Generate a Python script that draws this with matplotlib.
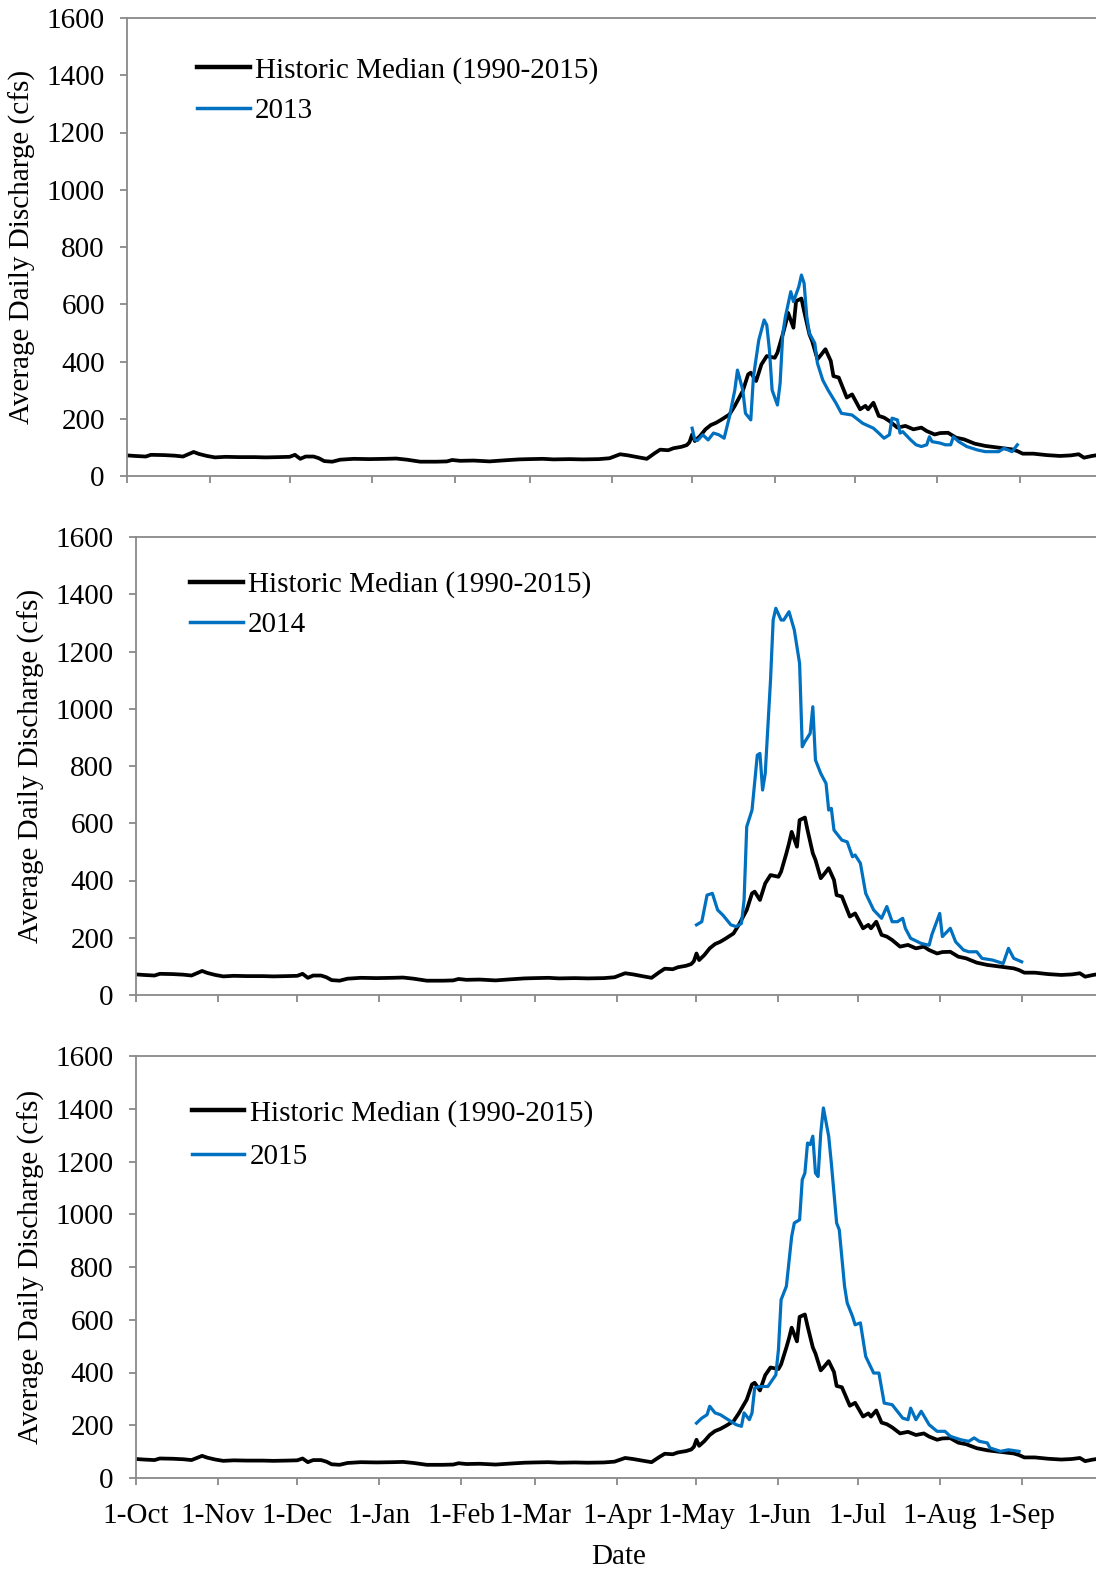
import matplotlib
matplotlib.use('Agg')
import matplotlib.pyplot as plt
from matplotlib.lines import Line2D

plt.rcParams['font.family'] = ['Liberation Serif', 'DejaVu Serif']

# ---- data (day index counted from 1-Oct) ----
month_labels = ['1-Oct', '1-Nov', '1-Dec', '1-Jan', '1-Feb', '1-Mar', '1-Apr',
                '1-May', '1-Jun', '1-Jul', '1-Aug', '1-Sep']
month_days = [0, 31, 61, 92, 123, 151, 182, 212, 243, 273, 304, 335]
y_ticks = [0, 200, 400, 600, 800, 1000, 1200, 1400, 1600]

median_days = [0, 3, 7, 9, 14, 18, 21, 24, 25, 27, 30, 33, 37, 42, 48, 52, 57, 61, 63, 65,
               67, 70, 72, 74, 77, 80, 85, 91, 97, 101, 105, 110, 116, 120, 122, 125, 130,
               136, 142, 147, 151, 156, 160, 166, 171, 177, 181, 185, 188, 192, 195, 198,
               200, 203, 205, 208, 210, 211, 212, 213, 215, 217, 219, 221, 223, 226, 228,
               231, 233, 234, 236, 238, 240, 243, 244, 246, 247, 248, 250, 251, 253, 254,
               256, 257, 259, 260, 262, 264, 265, 267, 270, 272, 275, 277, 278, 280, 282,
               284, 286, 289, 292, 295, 298, 300, 303, 305, 308, 311, 314, 318, 322, 327,
               332, 334, 336, 340, 345, 350, 354, 357, 359, 362, 364]
median_vals = [72, 70, 68, 74, 73, 71, 68, 80, 84, 77, 70, 65, 67, 66, 66, 65, 66, 67, 74, 60,
               68, 68, 62, 52, 50, 57, 60, 59, 60, 61, 57, 50, 50, 51, 56, 53, 54,
               51, 55, 58, 59, 60, 58, 59, 58, 59, 62, 76, 72, 65, 60, 80,
               92, 90, 97, 102, 108, 118, 145, 122, 140, 163, 178, 186, 197, 215, 245,
               297, 355, 361, 332, 390, 419, 413, 431, 495, 530, 570, 518, 611, 620, 576,
               495, 472, 408, 419, 443, 402, 349, 344, 274, 285, 233, 245, 233, 256, 210,
               204, 192, 169, 175, 163, 169, 157, 145, 150, 151, 134, 128, 113, 105, 99,
               93, 87, 78, 78, 73, 70, 72, 76, 64, 70, 73]

y2013_days = [212, 213, 214, 216, 218, 220, 222, 224, 226, 228, 229, 231, 232, 234, 235, 237,
              239, 240, 241, 242, 244, 245, 246, 247, 249, 250, 252, 253, 254, 255, 256, 258,
              259, 261, 263, 266, 268, 272, 276, 280, 282, 284, 286, 287, 289, 290, 291, 294,
              296, 298, 300, 301, 302, 305, 307, 309, 310, 312, 315, 319, 322, 327, 329, 332,
              334]
y2013_vals = [167, 126, 124, 144, 126, 150, 144, 132, 207, 300, 370, 300, 219, 196, 347, 475,
              545, 527, 440, 300, 248, 324, 498, 557, 644, 609, 661, 702, 673, 557, 498, 464,
              394, 335, 300, 254, 219, 213, 184, 167, 150, 132, 144, 202, 196, 150, 155, 126,
              109, 103, 109, 137, 120, 115, 109, 109, 137, 120, 103, 91, 85, 85, 97, 85,
              109]

y2014_days = [212, 214, 216, 218, 220, 222, 225, 227, 229, 230, 231, 233, 235, 236, 237, 238,
              240, 241, 242, 244, 245, 247, 249, 251, 252, 253, 255, 256, 257, 259, 261, 262,
              263, 264, 267, 269, 271, 272, 274, 276, 279, 282, 284, 286, 288, 290, 291, 293,
              297, 300, 301, 304, 305, 308, 310, 313, 315, 318, 320, 324, 328, 330, 332, 335]
y2014_vals = [245, 256, 349, 355, 297, 279, 245, 239, 250, 332, 588, 646, 838, 844, 716, 774,
              1100, 1310, 1351, 1310, 1310, 1339, 1275, 1158, 867, 885, 914, 1007, 821, 774, 739, 646,
              652, 576, 541, 535, 483, 489, 460, 355, 297, 268, 309, 256, 256, 268, 233, 198,
              180, 174, 210, 285, 204, 233, 186, 157, 151, 151, 128, 122, 110, 163, 128, 116]

y2015_days = [212, 214, 216, 217, 219, 221, 224, 227, 229, 230, 232, 233, 234, 236, 239, 242,
              243, 244, 246, 248, 249, 251, 252, 253, 254, 255, 256, 257, 258, 259, 260, 262,
              263, 265, 266, 268, 269, 271, 272, 274, 276, 279, 281, 283, 286, 290, 292, 293,
              295, 297, 300, 303, 306, 308, 312, 315, 317, 319, 322, 323, 327, 330, 334]
y2015_vals = [208, 227, 240, 272, 247, 240, 221, 202, 196, 247, 221, 247, 341, 347, 347, 391,
              487, 676, 727, 916, 967, 979, 1131, 1156, 1270, 1264, 1296, 1156, 1143, 1308, 1403, 1296,
              1194, 967, 941, 727, 664, 613, 581, 588, 461, 398, 398, 284, 278, 227, 221, 265,
              221, 253, 202, 177, 177, 158, 145, 139, 152, 139, 133, 114, 101, 107, 101]

median_label = 'Historic Median (1990-2015)'
panels = [('2013', y2013_days, y2013_vals), ('2014', y2014_days, y2014_vals),
          ('2015', y2015_days, y2015_vals)]

# ---- layout (pixels) ----
W, H = 1096, 1571
boxes = [(127, 18, 476, 1100), (136, 537, 995, 1101), (136, 1056, 1478, 1101)]
legend_pos = [(0.072, 0.915, 0.48), (0.056, 0.925, 0.45), (0.058, 0.896, 0.58)]
ylab_x = [22, 31, 31]

BLACK = '#000000'
BLUE = '#0070C0'
GRAY = '#898989'
FS = 21

fig = plt.figure(figsize=(W / 100, H / 100), dpi=100)

for i, ((lab, d, v), (l, t, b, r)) in enumerate(zip(panels, boxes)):
    ax = fig.add_axes([l / W, 1 - b / H, (r - l) / W, (b - t) / H])
    ax.plot(median_days, median_vals, color=BLACK, lw=2.7, solid_joinstyle='round', zorder=2)
    ax.plot(d, v, color=BLUE, lw=2.3, solid_joinstyle='round', zorder=3)
    ax.set_xlim(0, 365)
    ax.set_ylim(0, 1600)
    ax.set_yticks(y_ticks)
    ax.set_xticks(month_days)
    for s in ['left', 'bottom', 'top']:
        ax.spines[s].set_color(GRAY)
        ax.spines[s].set_linewidth(1.3)
    ax.spines['right'].set_visible(False)
    ax.tick_params(axis='both', direction='out', color=GRAY, width=1.3, length=5,
                   labelsize=FS, labelcolor='black')
    ax.tick_params(axis='y', pad=11)
    if i == 2:
        ax.set_xticklabels(month_labels)
        ax.tick_params(axis='x', pad=13)
        ax.set_xlabel('Date', fontsize=FS, labelpad=11)
    else:
        ax.set_xticklabels([])
    handles = [Line2D([], [], color=BLACK, lw=3.2), Line2D([], [], color=BLUE, lw=2.5)]
    lx, ly, ls = legend_pos[i]
    ax.legend(handles, [median_label, lab], loc='upper left', bbox_to_anchor=(lx, ly),
              frameon=False, fontsize=FS, handlelength=1.8, handletextpad=0.18,
              borderpad=0, borderaxespad=0, labelspacing=ls)
    fig.text(ylab_x[i] / W, 1 - ((t + b) / 2) / H, 'Average Daily Discharge (cfs)',
             rotation=90, ha='center', va='center', fontsize=FS)

fig.savefig('out.png', dpi=100)
